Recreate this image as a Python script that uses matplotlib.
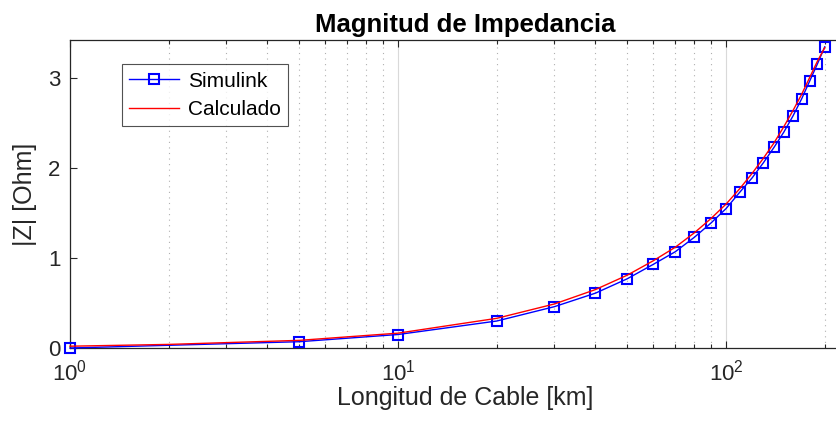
import matplotlib
matplotlib.use('Agg')
import matplotlib.pyplot as plt
import numpy as np

plt.rcParams['font.family'] = ['Liberation Sans', 'DejaVu Sans']
plt.rcParams['mathtext.fontset'] = 'custom'
plt.rcParams['mathtext.rm'] = 'Liberation Sans'

# --- data ---
longitud_sim = [1, 5, 10, 20, 30, 40, 50, 60, 70, 80, 90, 100, 110, 120,
                130, 140, 150, 160, 170, 180, 190, 200]
z_sim = [0.0, 0.07, 0.15, 0.30, 0.46, 0.61, 0.77, 0.93, 1.07, 1.23, 1.39,
         1.55, 1.73, 1.89, 2.06, 2.23, 2.40, 2.58, 2.77, 2.97, 3.16, 3.35]

longitud_calc = [1, 2, 5, 10, 20, 30, 40, 50, 60, 70, 80, 90, 100, 110,
                 120, 130, 140, 150, 160, 170, 180, 190, 200]
z_calc = [0.02, 0.04, 0.085, 0.165, 0.33, 0.49, 0.65, 0.81, 0.97, 1.12,
          1.28, 1.44, 1.60, 1.77, 1.94, 2.11, 2.28, 2.46, 2.64, 2.82, 3.01,
          3.19, 3.34]

fig = plt.figure(figsize=(8.37, 4.36), dpi=100)
ax = fig.add_axes([70 / 837, 88 / 436, 790 / 837, 307.5 / 436])

ax.plot(longitud_sim, z_sim, color='b', lw=1.0, marker='s', ms=7.5,
        mfc='none', mec='b', mew=1.5, label='Simulink', zorder=3, clip_on=False)
ax.plot(longitud_calc, z_calc, color='r', lw=1.0, label='Calculado', zorder=4,
        clip_on=False)

ax.set_xscale('log')
ax.set_xlim(1, 10 ** (790 / 328))
ax.set_ylim(0, 3.42)
ax.set_yticks([0, 1, 2, 3])

# grid only on x, major solid and minor dotted
ax.grid(True, which='major', axis='x', color='#d9d9d9', lw=0.8, ls='-')
ax.grid(True, which='minor', axis='x', color='#b0b0b0', lw=0.8, ls=(0, (1, 4)))
ax.set_axisbelow(True)

ax.tick_params(which='both', direction='in', top=True, right=True,
               color='#262626', labelsize=16, labelcolor='#262626')
ax.tick_params(which='major', length=5, width=0.8)
ax.tick_params(which='minor', length=3, width=0.8)
ax.tick_params(axis='x', pad=8)
ax.tick_params(axis='y', pad=7)
for s in ax.spines.values():
    s.set_color('#262626')
    s.set_linewidth(0.9)

ax.set_xlabel('Longitud de Cable [km]', fontsize=18, color='#262626', labelpad=1)
ax.set_ylabel('|Z| [Ohm]', fontsize=18, color='#262626', labelpad=8)
ax.set_title('Magnitud de Impedancia', fontsize=18.5, fontweight='bold', pad=6)

leg = ax.legend(loc='upper left', bbox_to_anchor=(52 / 790, 0.922), fontsize=15,
                frameon=True, fancybox=False, edgecolor='#262626',
                handlelength=2.4, borderpad=0.35, labelspacing=0.45,
                handletextpad=0.4, borderaxespad=0)
leg.get_frame().set_linewidth(0.8)

fig.savefig('out.png', dpi=100)
